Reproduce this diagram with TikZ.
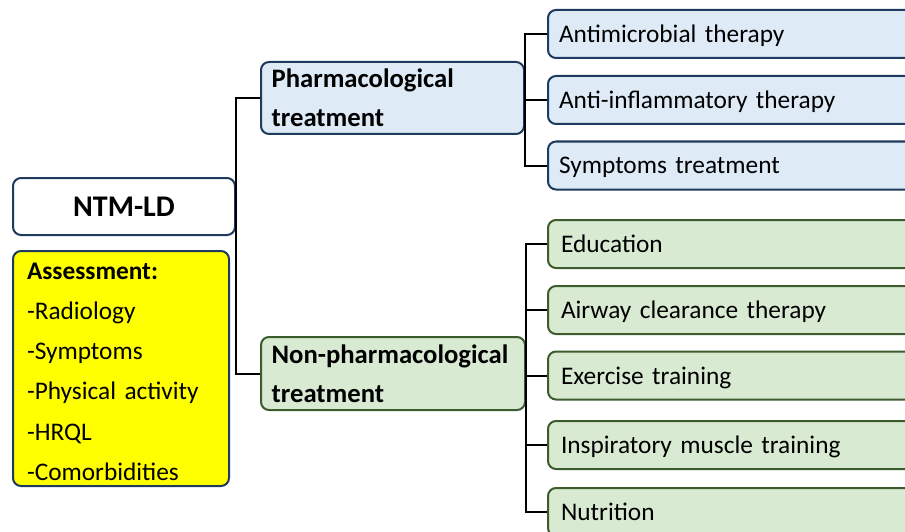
\documentclass[tikz,border=0pt]{standalone}
\usepackage{fontspec}
\setmainfont{Carlito}
\usetikzlibrary{positioning}
\definecolor{navyline}{HTML}{1F3A5F}
\definecolor{bluefill}{HTML}{DEEBF7}
\definecolor{greenfill}{HTML}{D9EAD3}
\definecolor{greenline}{HTML}{3D5C2E}
\definecolor{assessfill}{HTML}{FFFF00}

\begin{document}
\begin{tikzpicture}[x=0.75pt,y=-0.75pt,
    every node/.style={font=\fontsize{19}{29.5}\selectfont, inner ysep=0pt, rounded corners=6pt, line width=1.5pt},
    conn/.style={line width=1.5pt, black},
    mainbox/.style={draw=navyline, fill=white, minimum width=166.5pt, minimum height=42.75pt, font=\fontsize{22.5}{24}\selectfont\bfseries},
    assessbox/.style={draw=navyline, fill=assessfill, text width=141pt, inner xsep=10.5pt, minimum height=176.25pt, align=left, font=\fontsize{19}{30.15}\selectfont},
    pharmbox/.style={draw=navyline, fill=bluefill, anchor=west, text width=181.25pt, inner xsep=8pt, minimum height=54pt, align=left, font=\fontsize{20}{29}\selectfont\bfseries},
    nonphbox/.style={draw=greenline, fill=greenfill, anchor=west, text width=182pt, inner xsep=8pt, minimum height=54.75pt, align=left, font=\fontsize{20}{29}\selectfont\bfseries},
    leafblue/.style={draw=navyline, fill=bluefill, anchor=west, text width=270.75pt, inner xsep=8.25pt, minimum height=36pt, text depth=0pt, align=left},
    leafgreen/.style={draw=greenline, fill=greenfill, anchor=west, text width=268.5pt, inner xsep=9.75pt, minimum height=36pt, text depth=0pt, align=left}]
    \useasboundingbox (0,0) rectangle (905,531);
    \clip (0,0) rectangle (905,531);

    % left column
    \node[mainbox] (ntm) at (124,206.5) {NTM-LD};
    \node[assessbox] (assess) at (121,368.5) {\rule{0pt}{17pt}\textbf{Assessment:}\\-Radiology\\-Symptoms\\-Physical activity\\-HRQL\\-Comorbidities};

    % treatment branches
    \node[pharmbox] (pharm) at (260,98) {Pharmacological\\treatment};
    \node[nonphbox] (nonph) at (260,373.5) {Non-pharmacological\\treatment};

    % pharmacological leaves
    \node[leafblue] (amt) at (547,34) {Antimicrobial therapy};
    \node[leafblue] (ait) at (547,100) {Anti-inflammatory therapy};
    \node[leafblue] (sym) at (547,165.5) {Symptoms treatment};

    % non-pharmacological leaves
    \node[leafgreen] (edu) at (547,244) {Education};
    \node[leafgreen] (act) at (547,310) {Airway clearance therapy};
    \node[leafgreen] (exe) at (547,375.5) {Exercise training};
    \node[leafgreen] (imt) at (547,445) {Inspiratory muscle training};
    \node[leafgreen] (nut) at (547,512) {Nutrition};

    % connectors
    \draw[conn] (pharm.west) -- (pharm.west -| ntm.east) -- (nonph.west -| ntm.east) -- (nonph.west);
    \draw[conn] (amt.west) -| (pharm.east |- sym.west) -- (sym.west);
    \draw[conn] (pharm.east |- ait.west) -- (ait.west);
    \draw[conn] (edu.west) -| (nonph.east |- nut.west) -- (nut.west);
    \foreach \leaf in {act,exe,imt}
        \draw[conn] (nonph.east |- \leaf.west) -- (\leaf.west);
\end{tikzpicture}
\end{document}
